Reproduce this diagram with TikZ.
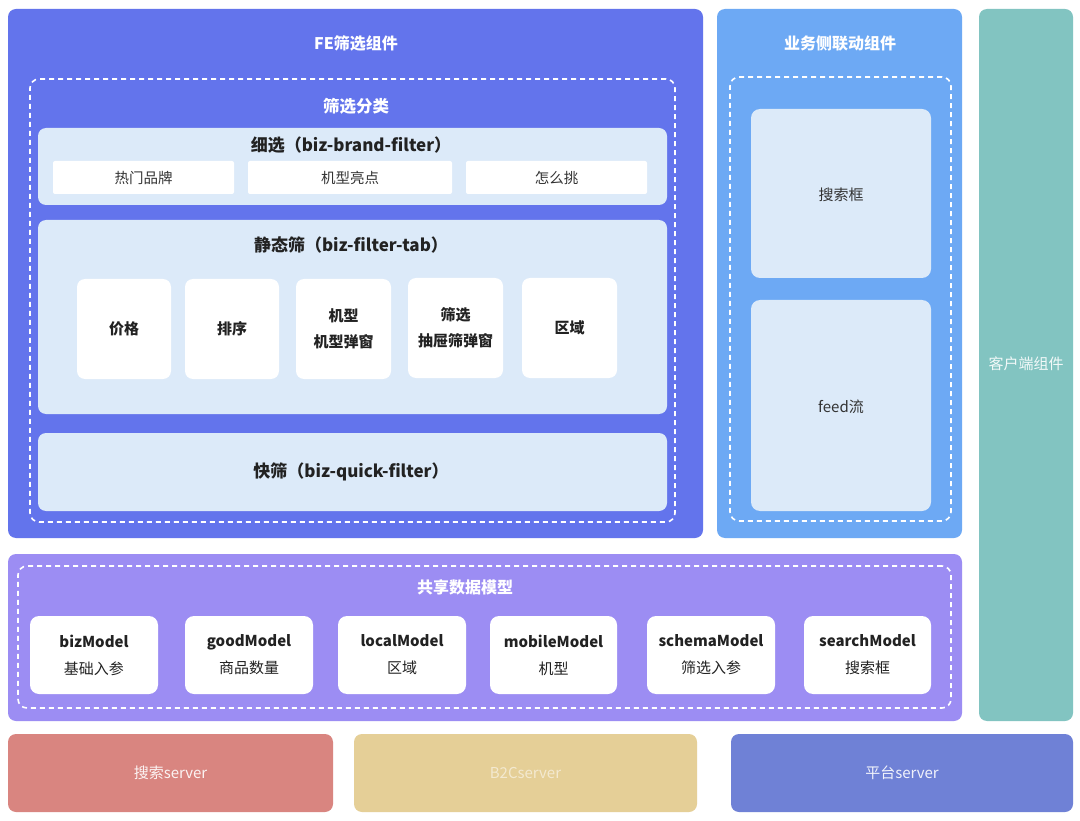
\documentclass[tikz,border=0pt]{standalone}
\usepackage{fontspec}
\setmainfont{Noto Sans CJK SC}
\usetikzlibrary{fit}
\definecolor{fe}{HTML}{6374EC}
\definecolor{biz}{HTML}{6DA9F4}
\definecolor{teal}{HTML}{82C4C1}
\definecolor{purp}{HTML}{9C8DF3}
\definecolor{lite}{HTML}{DCEAF9}
\definecolor{redsv}{HTML}{D98580}
\definecolor{yelsv}{HTML}{E5CF97}
\definecolor{platsv}{HTML}{6F81D6}
\definecolor{dtext}{HTML}{222222}
\definecolor{gtext}{HTML}{333333}
\begin{document}
\begin{tikzpicture}[x=1pt,y=-1pt,
  panel/.style={inner sep=0pt, rounded corners=8pt},
  dashbox/.style={draw=white, line width=1.6pt, dash pattern=on 5pt off 4pt, rounded corners=9pt, inner sep=0pt},
  wtitle/.style={text=white, font=\fontsize{16}{19}\selectfont\bfseries, inner sep=0pt},
  dtitle/.style={text=dtext, font=\fontsize{17}{20}\selectfont\bfseries, inner sep=0pt},
  lightbox/.style={fill=lite, inner sep=0pt, rounded corners=8pt},
  subbox/.style={fill=white, inner sep=0pt, rounded corners=2pt},
  subtxt/.style={text=gtext, inner sep=0pt, font=\fontsize{14.5}{18}\selectfont},
  card/.style={fill=white, inner sep=0pt, rounded corners=8pt},
  cardtxt/.style={text=dtext, inner sep=0pt, align=center, font=\fontsize{15}{26}\selectfont\bfseries},
  mcard/.style={fill=white, inner sep=0pt, rounded corners=9pt},
  mtxt/.style={text=dtext, inner sep=0pt, align=center, font=\fontsize{15}{27}\selectfont},
  lcard/.style={fill=lite, inner sep=0pt, rounded corners=9pt},
  ltxt/.style={text=gtext, inner sep=0pt, font=\fontsize{15}{18}\selectfont},
  server/.style={inner sep=0pt, rounded corners=8pt},
  stxt/.style={text=white, inner sep=0pt, font=\fontsize{15}{18}\selectfont}]
\useasboundingbox[fill=white] (0,0) rectangle (1080,821);

% FE filter component
\node[panel, fill=fe, fit={(8,9) (703,538)}] (fe) {};
\node[wtitle] (fetitle) at (356,43) {FE筛选组件};
\node[dashbox, fit={(30,79) (675,522)}] (fedash) {};
\node[wtitle, font=\fontsize{16.5}{19}\selectfont\bfseries] (cattitle) at (356,106) {筛选分类};

\node[lightbox, fit={(38,128) (667,205)}] (fine) {};
\node[dtitle] (finetitle) at (351,145) {细选（biz-brand-filter）};
\node[subbox, fit={(53,161) (234,194)}] (hot) {};
\node[subtxt] at (hot.center) {热门品牌};
\node[subbox, fit={(248,161) (452,194)}] (light) {};
\node[subtxt] at (light.center) {机型亮点};
\node[subbox, fit={(466,161) (647,194)}] (how) {};
\node[subtxt] at (how.center) {怎么挑};

\node[lightbox, fit={(38,220) (667,414)}] (static) {};
\node[dtitle] (statictitle) at (351,245) {静态筛（biz-filter-tab）};
\node[card, fit={(77,279) (171,379)}] (price) {};
\node[cardtxt] at (price.center) {价格};
\node[card, fit={(185,279) (279,379)}] (sort) {};
\node[cardtxt] at (sort.center) {排序};
\node[card, fit={(296,279) (391,379)}] (model) {};
\node[cardtxt] at (model.center) {机型\\机型弹窗};
\node[card, fit={(408,278) (503,378)}] (drawer) {};
\node[cardtxt] at (drawer.center) {筛选\\抽屉筛弹窗};
\node[card, fit={(522,278) (617,378)}] (area) {};
\node[cardtxt] at (area.center) {区域};

\node[lightbox, fit={(38,433) (667,511)}] (quick) {};
\node[dtitle] at (351,472) {快筛（biz-quick-filter）};

% business linkage component
\node[panel, fill=biz, fit={(717,9) (962,538)}] (bizp) {};
\node[wtitle] (biztitle) at (840,43) {业务侧联动组件};
\node[dashbox, fit={(730,77) (951,521)}] (bizdash) {};
\node[lcard, fit={(751,109) (931,278)}] (search) {};
\node[ltxt] at (841,195) {搜索框};
\node[lcard, fit={(751,300) (931,511)}] (feed) {};
\node[ltxt] at (841,407) {feed流};

% client component
\node[panel, fill=teal, fit={(979,9) (1073,721)}] (client) {};
\node[stxt, text opacity=0.9] at (1026,364) {客户端组件};

% shared data model
\node[panel, fill=purp, fit={(8,554) (962,721)}] (shared) {};
\node[dashbox, fit={(18,566) (951,708)}] (shareddash) {};
\node[wtitle] (sharedtitle) at (465,587) {共享数据模型};
\node[mcard, fit={(30,616) (158,694)}] (m1) {};
\node[mtxt] at (m1.center) {{\bfseries bizModel}\\基础入参};
\node[mcard, fit={(185,616) (313,694)}] (m2) {};
\node[mtxt] at (m2.center) {{\bfseries goodModel}\\商品数量};
\node[mcard, fit={(338,616) (466,694)}] (m3) {};
\node[mtxt] at (m3.center) {{\bfseries localModel}\\区域};
\node[mcard, fit={(490,616) (617,694)}] (m4) {};
\node[mtxt] at (m4.center) {{\bfseries mobileModel}\\机型};
\node[mcard, fit={(647,616) (775,694)}] (m5) {};
\node[mtxt] at (m5.center) {{\bfseries schemaModel}\\筛选入参};
\node[mcard, fit={(804,616) (931,694)}] (m6) {};
\node[mtxt] at (m6.center) {{\bfseries searchModel}\\搜索框};

% servers
\node[server, fill=redsv, fit={(8,734) (333,812)}] (srv1) {};
\node[stxt, text opacity=0.9] at (srv1.center) {搜索server};
\node[server, fill=yelsv, fit={(354,734) (697,812)}] (srv2) {};
\node[stxt, text opacity=0.55] at (srv2.center) {B2Cserver};
\node[server, fill=platsv, fit={(731,734) (1073,812)}] (srv3) {};
\node[stxt, text opacity=0.9] at (srv3.center) {平台server};
\end{tikzpicture}
\end{document}
